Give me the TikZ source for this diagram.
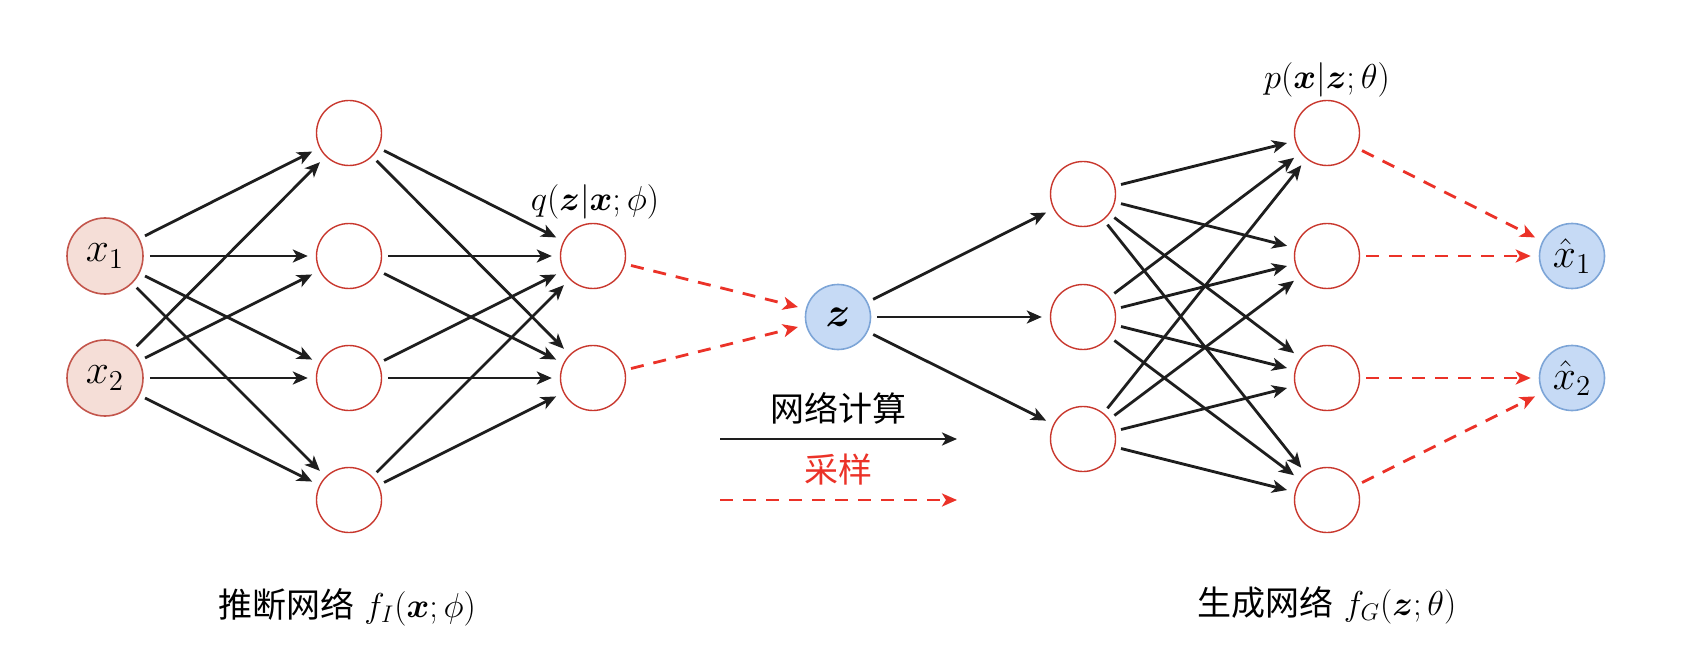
\documentclass[tikz,border=0pt]{standalone}
\usepackage{fontspec}
\usepackage{bm}
\newfontfamily\cjk{Noto Sans CJK SC}
\usetikzlibrary{arrows.meta}
\definecolor{nred}{RGB}{200,55,45}
\definecolor{infill}{RGB}{245,222,215}
\definecolor{inborder}{RGB}{195,85,75}
\definecolor{lfill}{RGB}{198,218,245}
\definecolor{lborder}{RGB}{125,165,215}
\definecolor{dred}{RGB}{235,50,40}
\definecolor{ink}{RGB}{30,30,30}
\tikzset{
  inode/.style={circle, draw=inborder, fill=infill, line width=0.8pt, minimum size=38pt, inner sep=0pt, font=\fontsize{22}{26}\selectfont},
  hnode/.style={circle, draw=nred, line width=0.7pt, minimum size=32.5pt, inner sep=0pt},
  lnode/.style={circle, draw=lborder, fill=lfill, line width=0.8pt, minimum size=32.5pt, inner sep=0pt, font=\fontsize{20}{24}\selectfont},
  conn/.style={draw=ink, line width=1.4pt, -{Stealth[length=7.5pt,width=6.5pt,inset=2pt]}, shorten <=3pt, shorten >=4pt},
  samp/.style={draw=dred, line width=1.4pt, dash pattern=on 6.5pt off 5pt, -{Stealth[length=7.5pt,width=6.5pt,inset=2pt]}, shorten <=3pt, shorten >=4pt},
  toplabel/.style={font=\fontsize{19}{22}\selectfont, inner sep=0pt},
  botlabel/.style={font=\fontsize{17}{20}\selectfont, inner sep=0pt},
}
\begin{document}
\begin{tikzpicture}[x=0.5pt,y=-0.5pt]
\useasboundingbox (0,0) rectangle (1696,663);
% encoder
\node[inode] (x1) at (105,256) {$x_1$};
\node[inode] (x2) at (105,378) {$x_2$};
\node[hnode] (a1) at (349,133) {};
\node[hnode] (a2) at (349,256) {};
\node[hnode] (a3) at (349,378) {};
\node[hnode] (a4) at (349,500) {};
\node[hnode] (q1) at (593,256) {};
\node[hnode] (q2) at (593,378) {};
\node[lnode] (z) at (838,317) {$\bm{z}$};
% decoder
\node[hnode] (g1) at (1083,194) {};
\node[hnode] (g2) at (1083,317) {};
\node[hnode] (g3) at (1083,439) {};
\node[hnode] (o1) at (1327,133) {};
\node[hnode] (o2) at (1327,256) {};
\node[hnode] (o3) at (1327,378) {};
\node[hnode] (o4) at (1327,500) {};
\node[lnode] (y1) at (1572,256) {$\hat{x}_1$};
\node[lnode] (y2) at (1572,378) {$\hat{x}_2$};
% edges
\foreach \s in {x1,x2}{\foreach \t in {a1,a2,a3,a4}{\draw[conn] (\s) -- (\t);}}
\foreach \s in {a1,a2,a3,a4}{\foreach \t in {q1,q2}{\draw[conn] (\s) -- (\t);}}
\draw[samp] (q1) -- (z);
\draw[samp] (q2) -- (z);
\foreach \t in {g1,g2,g3}{\draw[conn] (z) -- (\t);}
\foreach \s in {g1,g2,g3}{\foreach \t in {o1,o2,o3,o4}{\draw[conn] (\s) -- (\t);}}
\draw[samp] (o1) -- (y1);
\draw[samp] (o2) -- (y1);
\draw[samp] (o3) -- (y2);
\draw[samp] (o4) -- (y2);
% labels
\node[toplabel] (ql) at (595,202) {$q(\bm{z}|\bm{x};\phi)$};
\node[toplabel] (pl) at (1327,80) {$p(\bm{x}|\bm{z};\theta)$};
\node[botlabel] (el) at (347,607) {{\cjk 推断网络}\ $f_I(\bm{x};\phi)$};
\node[botlabel] (dl) at (1327,605) {{\cjk 生成网络}\ $f_G(\bm{z};\theta)$};
% legend
\coordinate (la1) at (720,439);
\coordinate (la2) at (957,439);
\coordinate (lb1) at (720,500);
\coordinate (lb2) at (957,500);
\draw[conn, shorten <=0pt, shorten >=0pt] (la1) -- (la2);
\draw[samp, shorten <=0pt, shorten >=0pt] (lb1) -- (lb2);
\node[botlabel] (lt1) at (838,408) {\cjk 网络计算};
\node[botlabel, text=dred] (lt2) at (838,470) {\cjk 采样};
\end{tikzpicture}
\end{document}
